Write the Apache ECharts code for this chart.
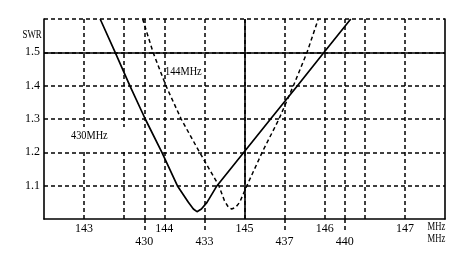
<!DOCTYPE html>
<html><head><meta charset="utf-8">
<script src="https://cdn.jsdelivr.net/npm/echarts@6/dist/echarts.min.js"></script>
<style>html,body{margin:0;background:#fff}#c{width:460px;height:263px}</style>
</head><body><div id="c"></div>
<script>
// Tick labels
const swrTicks = [1.1, 1.2, 1.3, 1.4, 1.5];
const vhfLabels = [143, 144, 145, 146, 147];
const uhfLabels = [430, 433, 437, 440];
// 430 MHz band curve (solid)
const uhfFreq = [427.8, 428.55, 429.28, 430.05, 430.88, 431.65, 432.2, 432.45, 432.63, 432.85, 433.13, 433.63, 434.97, 436.3, 437.64, 438.97, 440.3];
const uhfSwr  = [1.6, 1.5, 1.4, 1.3, 1.2, 1.1, 1.05, 1.03, 1.022, 1.03, 1.05, 1.1, 1.2, 1.3, 1.4, 1.5, 1.6];
// 144 MHz band curve (dashed)
const vhfFreq = [143.73, 143.86, 144.02, 144.21, 144.44, 144.68, 144.75, 144.80, 144.84, 144.89, 144.94, 145.03, 145.22, 145.43, 145.61, 145.78, 145.92];
const vhfSwr  = [1.6, 1.5, 1.4, 1.3, 1.2, 1.1, 1.055, 1.035, 1.03, 1.035, 1.05, 1.1, 1.2, 1.3, 1.4, 1.5, 1.6];

const FONT = '"Liberation Serif", serif';
const dash = [4, 3];
const chart = echarts.init(document.getElementById('c'), null, {renderer: 'canvas'});
const zip = (a, b) => a.map((v, i) => [v, b[i]]);
const txt = (text, x, y, sx, z) => ({
  type: 'text', x: x, y: y, scaleX: sx, z: z || 101,
  style: {text: text, font: '12px ' + FONT, fill: '#000', align: 'left', verticalAlign: 'middle'}
});

chart.setOption({
  animation: false,
  backgroundColor: '#fff',
  grid: {left: 44, top: 19, right: 15, bottom: 44, containLabel: false},
  xAxis: [{
    type: 'value', min: 142.5, max: 147.5, interval: 0.5, position: 'bottom',
    axisLine: {show: true, onZero: false, lineStyle: {color: '#000', width: 1.6}},
    axisTick: {show: false},
    axisLabel: {color: '#000', fontFamily: FONT, fontSize: 12, margin: 4,
      formatter: v => vhfLabels.includes(Math.round(v * 10) / 10) ? String(Math.round(v)) : ''},
    splitLine: {show: true, showMinLine: false, showMaxLine: false, lineStyle: {color: '#000', width: 1.5, type: dash}}
  }, {
    type: 'value', min: 425, max: 445, interval: 1, position: 'bottom', offset: 0,
    axisLine: {show: false},
    axisTick: {show: true, customValues: uhfLabels, length: 13, lineStyle: {color: '#000', width: 1.5, type: dash}},
    axisLabel: {show: true, customValues: uhfLabels, color: '#000', fontFamily: FONT, fontSize: 12, margin: 17},
    splitLine: {show: false}
  }],
  yAxis: [{
    type: 'value', min: 1.0, max: 1.6, interval: 0.1,
    axisLine: {show: true, lineStyle: {color: '#000', width: 1.6}},
    axisTick: {show: false},
    axisLabel: {color: '#000', fontFamily: FONT, fontSize: 12, margin: 4, padding: [0, 0, 7, 0],
      formatter: v => { const r = Math.round(v * 10) / 10; return swrTicks.includes(r) ? r.toFixed(1) : ''; }},
    splitLine: {show: true, showMinLine: false, showMaxLine: true, lineStyle: {color: '#000', width: 1.5, type: dash}}
  }, {
    type: 'value', min: 1.0, max: 1.6, interval: 0.1, position: 'right',
    axisLine: {show: true, lineStyle: {color: '#000', width: 1.6}},
    axisTick: {show: false}, axisLabel: {show: false}, splitLine: {show: false}
  }],
  series: [{
    name: '144MHz', type: 'line', xAxisIndex: 0, yAxisIndex: 0,
    data: zip(vhfFreq, vhfSwr), symbol: 'none', smooth: false,
    lineStyle: {color: '#000', width: 1.5, type: dash}, z: 5,
    markLine: {silent: true, symbol: 'none', label: {show: false},
      lineStyle: {color: '#000', width: 1.6, type: 'solid'},
      data: [{xAxis: 145}, {yAxis: 1.5}]}
  }, {
    name: '430MHz', type: 'line', xAxisIndex: 1, yAxisIndex: 0,
    data: zip(uhfFreq, uhfSwr), symbol: 'none', smooth: false,
    lineStyle: {color: '#000', width: 1.7, type: 'solid'}, z: 6,
    markLine: {silent: true, symbol: 'none', label: {show: false},
      lineStyle: {color: '#000', width: 1.5, type: dash},
      data: [{xAxis: 430}, {xAxis: 440}]}
  }],
  graphic: [
    {type: 'rect', z: 100, shape: {x: 66, y: 127, width: 62, height: 24}, style: {fill: '#fff'}},
    txt('430MHz', 71, 136, 0.86),
    txt('144MHz', 165, 72, 0.86),
    txt('SWR', 22.5, 35, 0.74),
    txt('MHz', 427.5, 227, 0.72),
    txt('MHz', 427.5, 239, 0.72)
  ]
});
</script></body></html>
